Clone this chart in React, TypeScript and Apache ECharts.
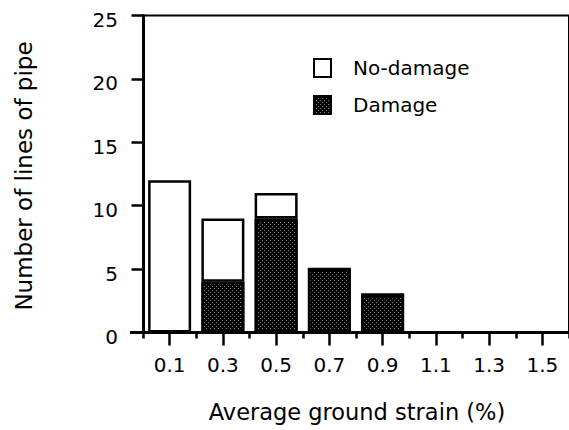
import React, { useEffect, useRef } from "react";
import * as echarts from "echarts";

const categories = ["0.1", "0.3", "0.5", "0.7", "0.9", "1.1", "1.3", "1.5"];
const damage = [0, 4, 9, 5, 3, 0, 0, 0];
const noDamage = [12, 5, 2, 0, 0, 0, 0, 0];
const yTicks = { min: 0, max: 25, interval: 5 };
const xTitle = "Average ground strain (%)";
const yTitle = "Number of lines of pipe";

const FONT = "DejaVu Sans";

export default function App() {
  const ref = useRef<HTMLDivElement>(null);
  useEffect(() => {
    if (!ref.current) return;
    const chart = echarts.init(ref.current, undefined, { renderer: "svg" });
    const damageDecal = {
      symbol: "rect",
      symbolSize: 1,
      symbolKeepAspect: false,
      color: "#7a7a7a",
      backgroundColor: "#000",
      dashArrayX: [[1, 3], [0, 2, 1, 1]],
      dashArrayY: [1, 1],
    };
    chart.setOption({
      animation: false,
      backgroundColor: "#fff",
      grid: {
        left: 143,
        top: 15.5,
        bottom: 97.5,
        width: 427,
        show: true,
        borderColor: "#000",
        borderWidth: 2,
        backgroundColor: "transparent",
      },
      legend: {
        orient: "vertical",
        left: 308,
        top: 53,
        icon: "rect",
        itemWidth: 17,
        itemHeight: 18,
        itemGap: 17,
        data: ["No-damage", "Damage"],
        textStyle: {
          fontFamily: FONT,
          fontSize: 20,
          color: "#000",
          padding: [0, 0, 0, 17],
        },
      },
      xAxis: [
        {
          type: "category",
          data: categories,
          boundaryGap: true,
          position: "bottom",
          axisLine: { show: true, lineStyle: { color: "#000", width: 3 } },
          axisTick: {
            show: true,
            alignWithLabel: true,
            interval: 0,
            length: 13,
            lineStyle: { color: "#000", width: 2.5 },
          },
          axisLabel: {
            interval: 0,
            margin: 22,
            fontFamily: FONT,
            fontSize: 20,
            color: "#000",
          },
          splitLine: { show: false },
        },
        {
          type: "category",
          data: categories,
          boundaryGap: true,
          position: "bottom",
          axisLine: { show: false },
          axisTick: {
            show: true,
            alignWithLabel: false,
            interval: 0,
            length: 6,
            lineStyle: { color: "#000", width: 2.5 },
          },
          axisLabel: { show: false },
          splitLine: { show: false },
        },
      ],
      yAxis: {
        type: "value",
        min: yTicks.min,
        max: yTicks.max,
        interval: yTicks.interval,
        axisLine: { show: true, lineStyle: { color: "#000", width: 3 } },
        axisTick: { show: true, length: 11.5, lineStyle: { color: "#000", width: 2.5 } },
        axisLabel: {
          margin: 25,
          fontFamily: FONT,
          fontSize: 20,
          color: "#000",
          verticalAlign: "top",
          lineHeight: 9,
        },
        splitLine: { show: false },
      },
      series: [
        {
          name: "Damage",
          type: "bar",
          stack: "total",
          xAxisIndex: 0,
          barWidth: 43,
          data: damage,
          itemStyle: {
            color: "#000",
            borderColor: "#000",
            borderWidth: 2.5,
            decal: damageDecal,
          },
        },
        {
          name: "No-damage",
          type: "bar",
          stack: "total",
          xAxisIndex: 0,
          barWidth: 43,
          data: noDamage,
          itemStyle: {
            color: "#fff",
            borderColor: "#000",
            borderWidth: 2.5,
          },
        },
      ],
      graphic: [
        {
          type: "line",
          shape: { x1: 130, y1: 332.5, x2: 143, y2: 332.5 },
          style: { stroke: "#000", lineWidth: 3 },
        },
        {
          type: "text",
          x: 357,
          y: 412,
          style: {
            text: xTitle,
            fontFamily: FONT,
            fontSize: 22.5,
            fill: "#000",
            textAlign: "center",
            textVerticalAlign: "middle",
          },
        },
        {
          type: "text",
          x: 24,
          y: 176,
          rotation: Math.PI / 2,
          style: {
            text: yTitle,
            fontFamily: FONT,
            fontSize: 23,
            fill: "#000",
            textAlign: "center",
            textVerticalAlign: "middle",
          },
        },
      ],
    });
    return () => chart.dispose();
  }, []);
  return <div ref={ref} style={{ width: 569, height: 430, position: "absolute", left: 0, top: 0 }} />;
}
